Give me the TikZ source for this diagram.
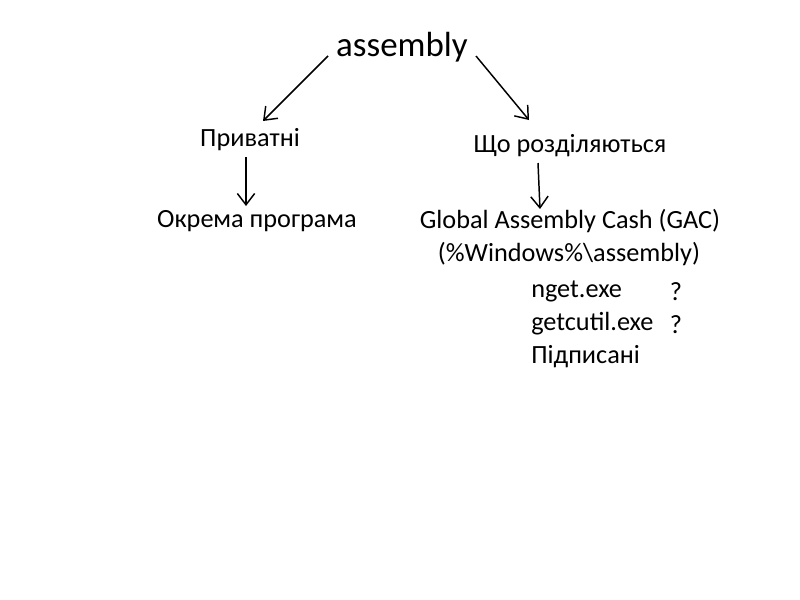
\documentclass[tikz,border=0pt]{standalone}
\usepackage{fontspec}
\setmainfont{Carlito}
\usetikzlibrary{arrows.meta}
\begin{document}
\begin{tikzpicture}[x=0.75pt,y=-0.75pt,
  txt/.style={inner sep=0pt,font=\fontsize{19.7pt}{22pt}\selectfont},
  big/.style={inner sep=0pt,font=\fontsize{26.2pt}{28pt}\selectfont},
  arr/.style={draw,line width=1.1pt,-{Straight Barb[length=8.5pt,width=13pt,line width=1.1pt]}}]
\useasboundingbox (0,0) rectangle (800,600);
\node[big,anchor=base] (asm) at (402,56) {assembly};
\node[txt,anchor=base] (priv) at (250,146) {Приватні};
\node[txt,anchor=base] (shared) at (570,152) {Що розділяються};
\node[txt,anchor=base] (okr) at (257,227) {Окрема програма};
\node[txt,anchor=base] (gac) at (570,228) {Global Assembly Cash (GAC)};
\node[txt,anchor=base] (win) at (569,261) {(\%Windows\%\textbackslash assembly)};
\node[txt,anchor=base west] (nget) at (531,297) {nget.exe};
\node[txt,anchor=base] (q1) at (676,300) {?};
\node[txt,anchor=base west] (gcu) at (531,330) {getcutil.exe};
\node[txt,anchor=base] (q2) at (676,333) {?};
\node[txt,anchor=base west] (sig) at (531,363) {Підписані};
\coordinate (a1s) at (328,56);
\coordinate (a1e) at (263,121);
\coordinate (a2s) at (476,56);
\coordinate (a2e) at (529,120);
\coordinate (a3s) at (246,157);
\coordinate (a3e) at (246,206);
\coordinate (a4s) at (538,163);
\coordinate (a4e) at (540,209);
\draw[arr] (a1s) -- (a1e);
\draw[arr] (a2s) -- (a2e);
\draw[arr] (a3s) -- (a3e);
\draw[arr] (a4s) -- (a4e);
\end{tikzpicture}
\end{document}
